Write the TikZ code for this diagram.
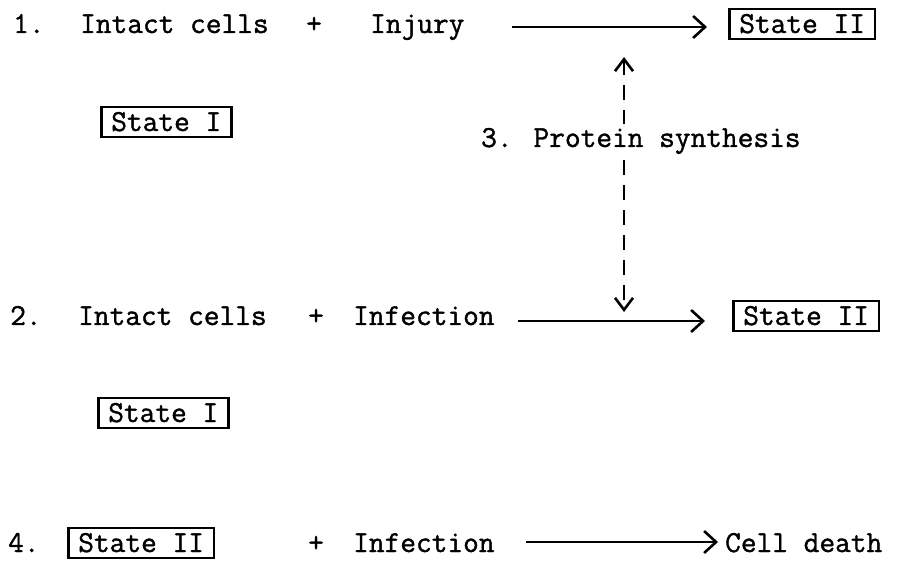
\documentclass[tikz,border=0pt]{standalone}
\usepackage{fontspec}
\newfontfamily\tw[FakeBold=1.2]{Latin Modern Mono}
\usetikzlibrary{arrows.meta,calc}
\begin{document}
\begin{tikzpicture}[x=1pt,y=-1pt,
  twfont/.style={font=\tw\fontsize{30.5}{34}\selectfont},
  txt/.style={twfont, inner sep=0pt, anchor=base west},
  sbox/.style={draw, line width=2.6pt, twfont,
    inner xsep=10pt, inner ysep=0pt, text height=24pt, text depth=6pt, anchor=base west},
  tipstyle/.style={-{Straight Barb[length=12pt,width=22pt,line width=2.6pt]}},
  rarrow/.style={line width=2.6pt, tipstyle},
  dasharrow/.style={line width=2.8pt, dash pattern=on 15pt off 10pt,
    {Straight Barb[length=12pt,width=18pt,line width=2.6pt]}-{Straight Barb[length=12pt,width=18pt,line width=2.6pt]}}]
\useasboundingbox (0,0) rectangle (905,561);

% Row 1
\node[txt] (n1) at (13,33) {1.};
\node[txt] (ic1) at (80,33) {Intact cells};
\node[txt] (p1) at (306,33) {+};
\node[txt] (inj) at (370,33) {Injury};
\node[sbox] (s2a) at (728,33) {State II};
\node[sbox] (s1a) at (100,131) {State I};
\draw[rarrow] ($(inj.base east)+(47,-6)$) coordinate (a1s) -- ($(s2a.base west)+(-21,-6)$) coordinate (a1e);

% Row 2
\node[txt] (n2) at (10,325) {2.};
\node[txt] (ic2) at (78,325) {Intact cells};
\node[txt] (p2) at (308,325) {+};
\node[txt] (inf2) at (353,325) {Infection};
\node[sbox] (s2b) at (732,325) {State II};
\node[sbox] (s1b) at (97,422) {State I};
\draw[rarrow] ($(inf2.base east)+(23,-4)$) coordinate (a2s) -- ($(s2b.base west)+(-27,-4)$) coordinate (a2e);

% 3. Protein synthesis (dashed double arrow between reaction arrows)
\coordinate (m1) at (624,27);
\coordinate (m2) at (624,321);
\draw[dasharrow, shorten <=30pt, shorten >=9pt] (m1) -- (m2);
\node[txt, fill=white, inner ysep=4pt] (ps) at (481,147) {3. Protein synthesis};

% Row 4
\node[txt] (n4) at (8,552) {4.};
\node[sbox] (s2c) at (67,552) {State II};
\node[txt] (p4) at (308,552) {+};
\node[txt] (inf4) at (353,552) {Infection};
\node[txt] (cd) at (725,552) {Cell death};
\draw[rarrow] ($(inf4.base east)+(31,-10)$) -- ($(cd.base west)+(-7,-10)$);
\end{tikzpicture}
\end{document}
